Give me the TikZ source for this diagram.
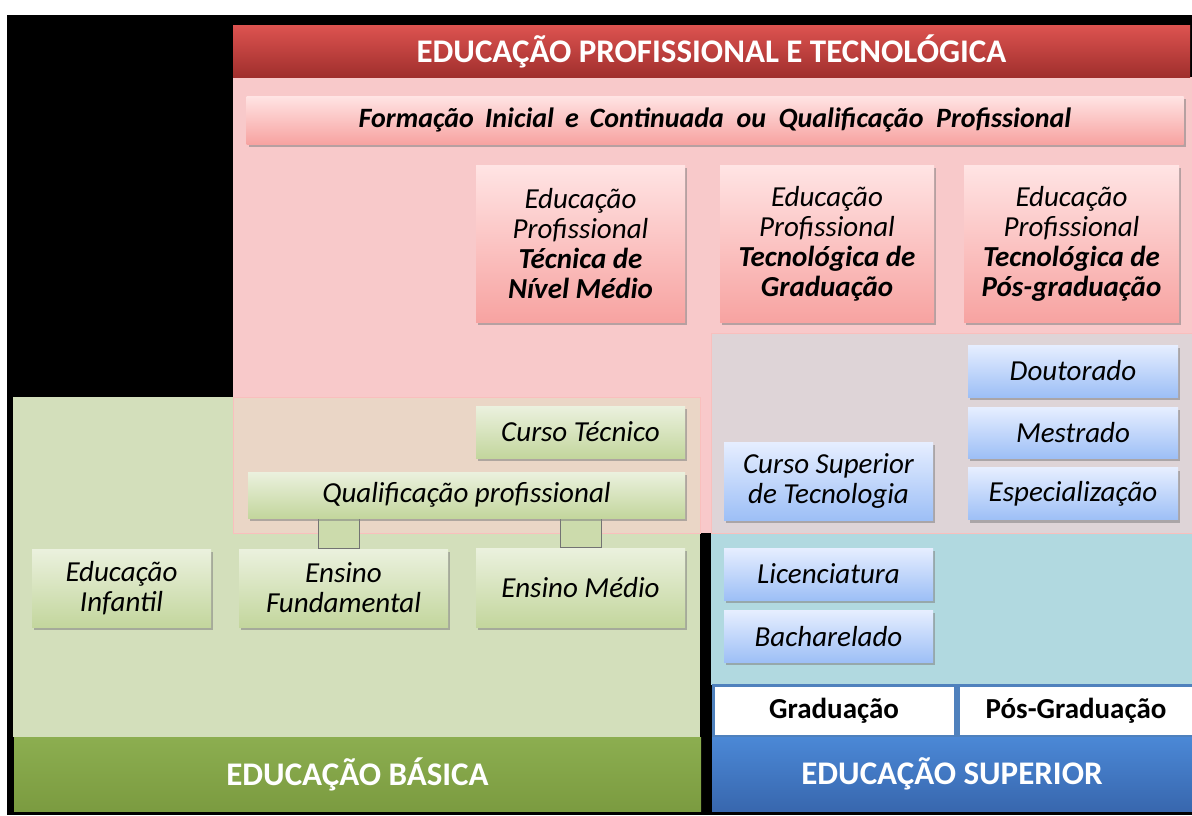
\documentclass[tikz,border=0pt]{standalone}
\usepackage{fontspec}
\setmainfont{Carlito}
\usetikzlibrary{positioning,calc,shadows,backgrounds}
\definecolor{eptbg}{HTML}{F8C9CA}
\definecolor{mixbg}{HTML}{EAD6C6}
\definecolor{basbg}{HTML}{D3DFBB}
\definecolor{supbg}{HTML}{B1D9E0}
\definecolor{gapbg}{HTML}{DED4D7}
\definecolor{eptboxtop}{HTML}{FFE4E4}
\definecolor{eptboxbot}{HTML}{F7A3A1}
\definecolor{basboxtop}{HTML}{EBF1DE}
\definecolor{basboxbot}{HTML}{C3D69D}
\definecolor{supboxtop}{HTML}{E6EEFF}
\definecolor{supboxbot}{HTML}{9DBFF6}
\definecolor{eptredtop}{HTML}{DD5350}
\definecolor{eptredbot}{HTML}{A02F2D}
\definecolor{basgreentop}{HTML}{8CAE50}
\definecolor{basgreenbot}{HTML}{7B9B40}
\definecolor{supbluetop}{HTML}{4B88D6}
\definecolor{supbluebot}{HTML}{3867AE}
\definecolor{supframe}{HTML}{4F81BD}
\definecolor{linkgreen}{HTML}{CCDBAC}
\pgfdeclarelayer{regions}
\pgfsetlayers{regions,background,main}
\tikzset{
  casebox/.style={rectangle, align=center, inner sep=2pt,
    font=\itshape\fontsize{29}{30}\selectfont,
    drop shadow={opacity=.55, shadow xshift=2pt, shadow yshift=-3pt}},
  eptbox/.style={casebox, top color=eptboxtop, bottom color=eptboxbot},
  basbox/.style={casebox, top color=basboxtop, bottom color=basboxbot},
  supbox/.style={casebox, top color=supboxtop, bottom color=supboxbot},
  title/.style={rectangle, inner sep=0pt, text=white,
    font=\bfseries\fontsize{33}{36}\selectfont},
  level/.style={rectangle, draw=supframe, line width=3pt, fill=white,
    inner sep=0pt, font=\bfseries\fontsize{29}{30}\selectfont},
  link/.style={fill=linkgreen, draw=black!55, line width=1pt},
}
\begin{document}
\begin{tikzpicture}[x=1pt,y=-1pt]
\useasboundingbox (0,0) rectangle (1192,815);
\begin{pgfonlayer}{regions}
\fill[white] (0,0) rectangle (1192,815);
\fill[black] (7,15) rectangle (1192,815);
\fill[eptbg] (233,77) rectangle (1192,533);
\fill[basbg] (13,397) rectangle (700,737);
\fill[supbg] (711,333) rectangle (1192,685);
\filldraw[mixbg,draw=eptboxbot!70] (233,397) rectangle (700,533);
\filldraw[gapbg,draw=eptboxbot!70] (711,333) rectangle (1192,533);
\end{pgfonlayer}

\node[title, top color=eptredtop, bottom color=eptredbot,
  minimum width=957pt, minimum height=52pt] (ept) at (711.5,51)
  {EDUCAÇÃO PROFISSIONAL E TECNOLÓGICA};
\node[eptbox, minimum width=937pt, minimum height=48pt,
  font=\bfseries\itshape\fontsize{28}{30}\selectfont] (fic) at (715,120)
  {Formação\ \,Inicial\ \,e\ \,Continuada\ \ ou\ \ Qualificação\ \ Profissional};
\node[eptbox, minimum width=209pt, minimum height=157pt] (tec) at (580.5,243.5)
  {Educação\\Profissional\\\textbf{Técnica de}\\\textbf{Nível Médio}};
\node[eptbox, minimum width=214pt, minimum height=157pt] (tgr) at (827,243.5)
  {Educação\\Profissional\\\textbf{Tecnológica de}\\\textbf{Graduação}};
\node[eptbox, minimum width=215pt, minimum height=157pt] (tpg) at (1071.5,243.5)
  {Educação\\Profissional\\\textbf{Tecnológica de}\\\textbf{Pós-graduação}};

\node[supbox, minimum width=210pt, minimum height=52pt] (dout) at (1073,371) {Doutorado};
\node[supbox, minimum width=210pt, minimum height=51pt, below=10pt of dout] (mest) {Mestrado};
\node[supbox, minimum width=210pt, minimum height=52pt, below=9pt of mest] (espec) {Especialização};
\node[supbox, minimum width=209pt, minimum height=78pt] (cst) at (828.5,481)
  {Curso Superior\\de Tecnologia};
\node[supbox, minimum width=209pt, minimum height=52pt] (lic) at (828.5,574) {Licenciatura};
\node[supbox, minimum width=209pt, minimum height=52pt, below=10pt of lic] (bach) {Bacharelado};

\node[basbox, minimum width=209pt, minimum height=52pt] (ctec) at (580.5,432) {Curso Técnico};
\node[basbox, minimum width=437pt, minimum height=46pt] (qual) at (466.5,495)
  {Qualificação profissional};
\node[basbox, minimum width=179pt, minimum height=78pt] (einf) at (121.5,588)
  {Educação\\Infantil};
\node[basbox, minimum width=209pt, minimum height=78pt] (efund) at (343.5,588)
  {Ensino\\Fundamental};
\node[basbox, minimum width=209pt, minimum height=79pt] (emed) at (580.5,587.5)
  {Ensino Médio};
\begin{scope}[on background layer]
\path[link] ($(efund.north)+(-25.5,0)$) rectangle ($(efund.north |- qual.south)+(15.5,0)$);
\path[link] ($(emed.north)+(-20.5,0)$) rectangle ($(emed.north |- qual.south)+(20.5,0)$);
\end{scope}

\node[level, minimum width=242pt, minimum height=51pt] (grad) at (834,710.5) {Graduação};
\node[level, minimum width=236pt, minimum height=51pt] (posg) at (1076,710.5) {Pós-Graduação};
\node[title, top color=basgreentop, bottom color=basgreenbot,
  minimum width=687pt, minimum height=74pt] (basica) at (357.5,774) {EDUCAÇÃO BÁSICA};
\node[title, top color=supbluetop, bottom color=supbluebot,
  minimum width=480pt, minimum height=74pt] (superior) at (952,774) {EDUCAÇÃO SUPERIOR};
\end{tikzpicture}
\end{document}
